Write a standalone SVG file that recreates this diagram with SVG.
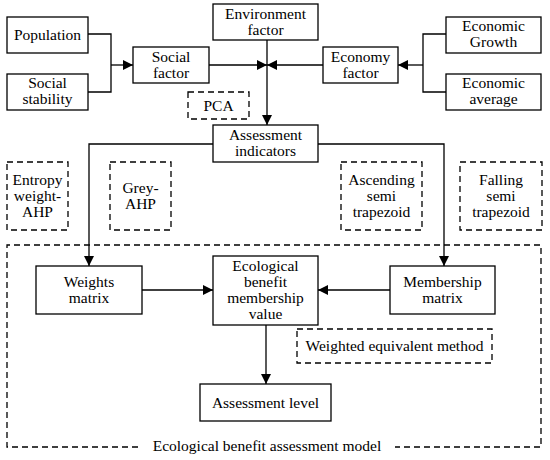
<svg xmlns="http://www.w3.org/2000/svg" width="550" height="460" viewBox="0 0 550 460">
<defs>
<marker id="ah" viewBox="0 0 10 10" refX="10" refY="5" markerWidth="10" markerHeight="10" markerUnits="userSpaceOnUse" orient="auto">
<path d="M0,0 L10,5 L0,10 Z" fill="#000"/>
</marker>
</defs>
<style>
.b{fill:#fff;stroke:#000;stroke-width:1.3}
.d{fill:none;stroke:#000;stroke-width:1.3;stroke-dasharray:6,4}
.t{font-size:15.5px;fill:#000;text-anchor:middle}
.c{fill:none;stroke:#000;stroke-width:1.3}
</style>
<rect width="550" height="460" fill="#fff"/>
<g id="connectors">
<polyline class="c" points="88,34 111,34 111,92 88,92"/>
<line class="c" x1="111" y1="65" x2="133" y2="65" marker-end="url(#ah)"/>
<polyline class="c" points="446,34 423,34 423,92 446,92"/>
<line class="c" x1="423" y1="65" x2="398" y2="65" marker-end="url(#ah)"/>
<line class="c" x1="209" y1="65" x2="267" y2="65" marker-end="url(#ah)"/>
<line class="c" x1="323" y1="65" x2="267" y2="65" marker-end="url(#ah)"/>
<line class="c" x1="267" y1="40" x2="267" y2="125" marker-end="url(#ah)"/>
<polyline class="c" points="213,144 89,144 89,266" marker-end="url(#ah)"/>
<polyline class="c" points="318,144 444,144 444,266" marker-end="url(#ah)"/>
<line class="c" x1="142" y1="290" x2="213" y2="290" marker-end="url(#ah)"/>
<line class="c" x1="390" y1="290" x2="318" y2="290" marker-end="url(#ah)"/>
<line class="c" x1="266" y1="325" x2="266" y2="384" marker-end="url(#ah)"/>
</g>
<g font-family="'Liberation Serif', 'Times New Roman', 'DejaVu Serif', serif">
<g id="model">
<path class="d" d="M138,447 L7,447 L7,245 L541,245 L541,447 L395,447"/>
<text class="t" x="267" y="451">Ecological benefit assessment model</text>
</g>
<g id="population"><rect class="b" x="7" y="17" width="81" height="36"/><text class="t" x="47.5" y="40">Population</text></g>
<g id="social-stability"><rect class="b" x="7" y="74" width="81" height="36"/><text class="t" x="47.5" y="88">Social</text><text class="t" x="47.5" y="104">stability</text></g>
<g id="social-factor"><rect class="b" x="133" y="47" width="76" height="36"/><text class="t" x="171" y="62">Social</text><text class="t" x="171" y="78">factor</text></g>
<g id="environment-factor"><rect class="b" x="213" y="4" width="105" height="36"/><text class="t" x="265.5" y="19">Environment</text><text class="t" x="265.5" y="35">factor</text></g>
<g id="economy-factor"><rect class="b" x="323" y="47" width="75" height="36"/><text class="t" x="360.5" y="62">Economy</text><text class="t" x="360.5" y="78">factor</text></g>
<g id="economic-growth"><rect class="b" x="446" y="17" width="95" height="36"/><text class="t" x="493.5" y="31">Economic</text><text class="t" x="493.5" y="47">Growth</text></g>
<g id="economic-average"><rect class="b" x="446" y="74" width="95" height="36"/><text class="t" x="493.5" y="88">Economic</text><text class="t" x="493.5" y="104">average</text></g>
<g id="pca"><rect class="d" x="188" y="92" width="61" height="27"/><text class="t" x="218.5" y="111">PCA</text></g>
<g id="assessment-indicators"><rect class="b" x="213" y="125" width="105" height="37"/><text class="t" x="265.5" y="140">Assessment</text><text class="t" x="265.5" y="156">indicators</text></g>
<g id="entropy"><rect class="d" x="7" y="162" width="61" height="68"/><text class="t" x="37.5" y="185">Entropy</text><text class="t" x="37.5" y="201">weight-</text><text class="t" x="37.5" y="217">AHP</text></g>
<g id="grey-ahp"><rect class="d" x="110" y="162" width="61" height="68"/><text class="t" x="140.5" y="193">Grey-</text><text class="t" x="140.5" y="209">AHP</text></g>
<g id="ascending"><rect class="d" x="341" y="162" width="81" height="68"/><text class="t" x="381.5" y="185">Ascending</text><text class="t" x="381.5" y="201">semi</text><text class="t" x="381.5" y="217">trapezoid</text></g>
<g id="falling"><rect class="d" x="460" y="162" width="82" height="68"/><text class="t" x="501" y="185">Falling</text><text class="t" x="501" y="201">semi</text><text class="t" x="501" y="217">trapezoid</text></g>
<g id="weights-matrix"><rect class="b" x="36" y="266" width="106" height="48"/><text class="t" x="89" y="287">Weights</text><text class="t" x="89" y="303">matrix</text></g>
<g id="eco-value"><rect class="b" x="213" y="256" width="105" height="69"/><text class="t" x="265.5" y="271">Ecological</text><text class="t" x="265.5" y="287">benefit</text><text class="t" x="265.5" y="303">membership</text><text class="t" x="265.5" y="319">value</text></g>
<g id="membership-matrix"><rect class="b" x="390" y="266" width="105" height="48"/><text class="t" x="442.5" y="287">Membership</text><text class="t" x="442.5" y="303">matrix</text></g>
<g id="weighted-equivalent"><rect class="d" x="297" y="329" width="195" height="34"/><text class="t" x="394.5" y="351">Weighted equivalent method</text></g>
<g id="assessment-level"><rect class="b" x="200" y="384" width="131" height="37"/><text class="t" x="265.5" y="408">Assessment level</text></g>
</g>
</svg>
